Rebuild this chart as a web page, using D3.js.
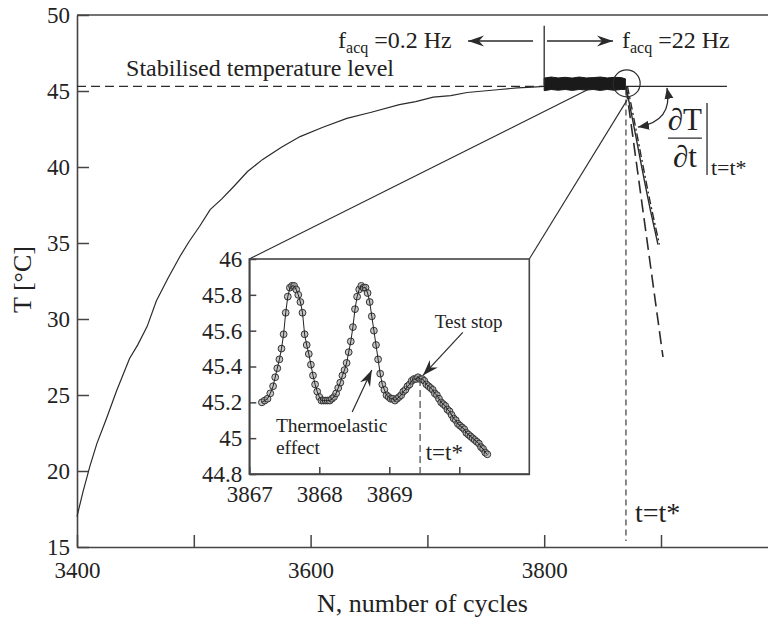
<!DOCTYPE html>
<html><head><meta charset="utf-8">
<script src="https://cdn.jsdelivr.net/npm/d3@7"></script>
<style>
body{margin:0;background:#fff}
svg{display:block}
</style></head><body>
<svg id="c" width="768" height="621"></svg>
<script>
// ---------- data ----------
const mainN = [3400,3405,3411,3417,3425,3434,3445,3452,3460,3468,3478,3488,3496,3505,3514,3524,3534,3546,3559,3575,3591,3610,3631,3652,3676,3690,3705,3720,3734,3748,3762,3777,3790,3800];
const mainT = [17.0,18.6,20.3,21.8,23.4,25.3,27.4,28.3,29.5,31.2,32.7,34.1,35.1,36.1,37.2,37.9,38.7,39.7,40.5,41.3,42.0,42.6,43.2,43.6,44.1,44.3,44.6,44.7,44.9,45.0,45.1,45.2,45.25,45.3];
const bandN  = [3800,3806,3812,3818,3824,3830,3836,3842,3848,3854,3860,3866,3869.5];
const bandHi = [45.85,45.92,45.86,45.9,45.85,45.92,45.86,45.88,45.92,45.86,45.9,45.88,45.8];
const bandLo = [45.02,45.1,45.05,45.1,45.04,45.1,45.06,45.1,45.04,45.1,45.05,45.1,45.1];
const coolN = [3870,3875,3880,3886,3891,3897.4];
const coolT = [45.3,43.4,41.4,39.0,37.1,34.9];
const tangentN = [3870,3901.7];
const tangentT = [45.3,27.5];
const stabT = 45.3;
const switchN = 3800;
const tStarN = 3870;

const insetN = [3867.18,3867.22,3867.26,3867.30,3867.34,3867.37,3867.40,3867.43,3867.46,3867.49,3867.52,3867.55,3867.58,3867.61,3867.64,3867.67,3867.70,3867.73,3867.76,3867.79,3867.82,3867.85,3867.88,3867.91,3867.94,3867.97,3868.00,3868.03,3868.06,3868.09,3868.12,3868.15,3868.18,3868.21,3868.24,3868.27,3868.30,3868.33,3868.36,3868.39,3868.42,3868.45,3868.48,3868.51,3868.54,3868.57,3868.60,3868.63,3868.66,3868.69,3868.72,3868.75,3868.78,3868.81,3868.84,3868.87,3868.90,3868.93,3868.96,3868.99,3869.02,3869.05,3869.08,3869.11,3869.14,3869.17,3869.20,3869.23,3869.26,3869.29,3869.32,3869.35,3869.38,3869.41,3869.44,3869.47,3869.50,3869.53,3869.56,3869.59,3869.62,3869.65,3869.68,3869.71,3869.74,3869.77,3869.80,3869.83,3869.86,3869.89,3869.92,3869.95,3869.98,3870.01,3870.04,3870.07,3870.10,3870.13,3870.16,3870.19,3870.22,3870.25,3870.28,3870.31,3870.34,3870.37,3870.40];
const insetT = [45.20,45.21,45.22,45.25,45.29,45.34,45.39,45.44,45.50,45.58,45.70,45.79,45.84,45.85,45.85,45.83,45.80,45.76,45.70,45.58,45.52,45.47,45.41,45.35,45.30,45.26,45.23,45.21,45.21,45.21,45.21,45.21,45.22,45.23,45.25,45.28,45.31,45.35,45.38,45.42,45.48,45.54,45.62,45.72,45.79,45.83,45.85,45.84,45.84,45.81,45.76,45.68,45.60,45.52,45.44,45.36,45.30,45.27,45.24,45.23,45.22,45.22,45.21,45.22,45.23,45.24,45.26,45.27,45.29,45.30,45.32,45.33,45.33,45.34,45.33,45.33,45.32,45.30,45.29,45.28,45.27,45.25,45.24,45.22,45.20,45.19,45.18,45.16,45.15,45.13,45.11,45.10,45.08,45.07,45.06,45.05,45.03,45.02,45.01,45.00,44.99,44.98,44.97,44.95,44.94,44.92,44.91];

const yTicks = [15,20,25,30,35,40,45,50];
const xTicks = [3400,3500,3600,3700,3800,3900];
const xTickLabels = [3400,3600,3800];
const insetYTicks = [44.8,45,45.2,45.4,45.6,45.8,46];
const insetXTicks = [3867,3868,3869,3870];
const insetXLabels = [3867,3868,3869];

// ---------- setup ----------
const FONT = "'Liberation Serif','Times New Roman',Times,serif";
const svg = d3.select("#c");
const ink = "#2b2b2b";
const x = d3.scaleLinear().domain([3400,4000]).range([77,777.8]);
const y = d3.scaleLinear().domain([15,50]).range([547,15]);
const xi = d3.scaleLinear().domain([3867,3871]).range([249.3,529.3]);
const yi = d3.scaleLinear().domain([44.8,46]).range([474,259]);

const defs = svg.append("defs");
defs.append("marker").attr("id","swept").attr("viewBox","0 -6 16 12")
  .attr("refX",16).attr("refY",0).attr("markerWidth",16).attr("markerHeight",12)
  .attr("markerUnits","userSpaceOnUse").attr("orient","auto")
  .append("path").attr("d","M0,-5.5 L16,0 L0,5.5 L5,0 Z").attr("fill",ink);
defs.append("marker").attr("id","tri").attr("viewBox","0 -5 11 10")
  .attr("refX",11).attr("refY",0).attr("markerWidth",11).attr("markerHeight",10)
  .attr("markerUnits","userSpaceOnUse").attr("orient","auto-start-reverse")
  .append("path").attr("d","M0,-4.5 L11,0 L0,4.5 Z").attr("fill",ink);

function styleAxis(g, fs){
  g.attr("font-family",null).attr("font-size",null);
  g.select(".domain").attr("stroke","#444").attr("stroke-width",1.6);
  g.selectAll(".tick line").attr("stroke","#444").attr("stroke-width",1.5);
  g.selectAll(".tick text").attr("font-size",fs).attr("fill","#222");
}

// ---------- main axes ----------
const gy = svg.append("g").attr("transform",`translate(${x.range()[0]},0)`)
  .call(d3.axisLeft(y).tickValues(yTicks).tickSizeInner(-12).tickSizeOuter(0).tickPadding(7).tickFormat(d3.format("d")));
styleAxis(gy,23);
const gx = svg.append("g").attr("transform",`translate(0,${y(15)})`)
  .call(d3.axisBottom(x).tickValues(xTicks).tickSizeInner(-12).tickSizeOuter(0).tickPadding(15)
     .tickFormat(d => xTickLabels.includes(d) ? d : ""));
styleAxis(gx,23);
svg.append("line").attr("x1",x(3400)).attr("x2",x(4000)).attr("y1",y(50)).attr("y2",y(50))
  .attr("stroke","#444").attr("stroke-width",1.6);

svg.append("text").attr("x",(x(3400)+768)/2).attr("y",612).attr("text-anchor","middle")
  .attr("font-size",26).text("N, number of cycles");
svg.append("text").attr("transform",`translate(31,${y(32.6)}) rotate(-90)`).attr("text-anchor","middle")
  .attr("font-size",26).text("T [°C]");

// ---------- main data ----------
const line = d3.line().x(d=>x(d[0])).y(d=>y(d[1]));
svg.append("path").datum(mainN.map((n,i)=>[n,mainT[i]])).attr("d",line)
  .attr("fill","none").attr("stroke",ink).attr("stroke-width",1.2);

// stabilised level
svg.append("path").datum([[3400,stabT],[switchN,stabT]]).attr("d",line)
  .attr("fill","none").attr("stroke",ink).attr("stroke-width",1.2).attr("stroke-dasharray","9,5");
svg.append("path").datum([[tStarN,stabT],[3956.5,stabT]]).attr("d",line)
  .attr("fill","none").attr("stroke",ink).attr("stroke-width",1.3);
svg.append("text").attr("x",x(3442)).attr("y",y(45.99)).attr("font-size",24).text("Stabilised temperature level");

// band of 22 Hz data
const area = d3.area().x((d)=>x(d.n)).y0(d=>y(d.lo)).y1(d=>y(d.hi)).curve(d3.curveLinear);
svg.append("path").datum(bandN.map((n,i)=>({n,hi:bandHi[i],lo:bandLo[i]}))).attr("d",area)
  .attr("fill","#1a1a1a").attr("stroke","#1a1a1a").attr("stroke-width",1);

// acquisition switch + arrows
svg.append("line").attr("x1",x(switchN)).attr("x2",x(switchN)).attr("y1",y(49.3)).attr("y2",y(45.4))
  .attr("stroke",ink).attr("stroke-width",1.3);
svg.append("line").attr("x1",x(3790.4)).attr("x2",x(3734.8)).attr("y1",y(48.29)).attr("y2",y(48.29))
  .attr("stroke",ink).attr("stroke-width",1.3).attr("marker-end","url(#swept)");
svg.append("line").attr("x1",x(3802.4)).attr("x2",x(3858.9)).attr("y1",y(48.29)).attr("y2",y(48.29))
  .attr("stroke",ink).attr("stroke-width",1.3).attr("marker-end","url(#swept)");
function facq(nx, label){
  const t = svg.append("text").attr("x",x(nx)).attr("y",y(47.85)).attr("font-size",24);
  t.append("tspan").text("f");
  t.append("tspan").attr("dy",5).attr("font-size",16).text("acq");
  t.append("tspan").attr("dy",-5).text(" =" + label);
}
facq(3623.5,"0.2 Hz");
facq(3866.6,"22 Hz");

// circle
svg.append("circle").attr("cx",x(3870.6)).attr("cy",y(45.5)).attr("r",13.5)
  .attr("fill","none").attr("stroke",ink).attr("stroke-width",1.2);

// cooling data and tangent
svg.append("path").datum(coolN.map((n,i)=>[n,coolT[i]])).attr("d",line.curve(d3.curveBasis))
  .attr("fill","none").attr("stroke",ink).attr("stroke-width",1.4);
svg.append("path").datum(coolN.map((n,i)=>[n,coolT[i]])).attr("d",line)
  .attr("fill","none").attr("stroke",ink).attr("stroke-width",1.4).attr("stroke-dasharray","8,3,2,3")
  .attr("transform","translate(1.5,0)");
line.curve(d3.curveLinear);
svg.append("path").datum(tangentN.map((n,i)=>[n,tangentT[i]])).attr("d",line)
  .attr("fill","none").attr("stroke",ink).attr("stroke-width",1.6).attr("stroke-dasharray","13,6");

// t* vertical
svg.append("line").attr("x1",x(tStarN)).attr("x2",x(tStarN)).attr("y1",y(45.1)).attr("y2",y(15.4))
  .attr("stroke",ink).attr("stroke-width",1.1).attr("stroke-dasharray","6,4");
svg.append("text").attr("x",x(3877.7)).attr("y",y(16.64)).attr("font-size",28).text("t=t*");

// curved double arrow
const p0=[x(3905.1),y(45.2)], pc=[x(3910.5),y(43.0)], p2=[x(3880.3),y(42.63)];
svg.append("path").attr("d",`M${p0[0]},${p0[1]} Q${pc[0]},${pc[1]} ${p2[0]},${p2[1]}`)
  .attr("fill","none").attr("stroke",ink).attr("stroke-width",1.3)
  .attr("marker-start","url(#tri)").attr("marker-end","url(#tri)");

// derivative label
const fx = x(3920.5);
svg.append("text").attr("x",fx).attr("y",y(42.43)).attr("text-anchor","middle").attr("font-size",31).text("∂T");
svg.append("line").attr("x1",x(3906)).attr("x2",x(3935)).attr("y1",y(41.9)).attr("y2",y(41.9))
  .attr("stroke",ink).attr("stroke-width",1.2);
svg.append("text").attr("x",fx).attr("y",y(40.0)).attr("text-anchor","middle").attr("font-size",31).text("∂t");
svg.append("line").attr("x1",x(3939.4)).attr("x2",x(3939.4)).attr("y1",y(44.21)).attr("y2",y(39.47))
  .attr("stroke",ink).attr("stroke-width",1.3);
svg.append("text").attr("x",x(3942.8)).attr("y",y(39.47)).attr("font-size",22).text("t=t*");

// ---------- connectors ----------
svg.append("line").attr("x1",x(3837.5)).attr("y1",y(45.1)).attr("x2",xi(3867)).attr("y2",yi(46))
  .attr("stroke",ink).attr("stroke-width",1.1);
svg.append("line").attr("x1",x(3870.9)).attr("y1",y(44.4)).attr("x2",xi(3871)).attr("y2",yi(46))
  .attr("stroke",ink).attr("stroke-width",1.1);

// ---------- inset ----------
svg.append("rect").attr("x",xi(3867)).attr("y",yi(46)).attr("width",xi(3871)-xi(3867)).attr("height",yi(44.8)-yi(46))
  .attr("fill","#fff").attr("stroke","#444").attr("stroke-width",1.6);
const giy = svg.append("g").attr("transform",`translate(${xi(3867)},0)`)
  .call(d3.axisLeft(yi).tickValues(insetYTicks).tickSizeInner(-7).tickSizeOuter(0).tickPadding(7)
    .tickFormat(d => String(+d.toFixed(1))));
styleAxis(giy,23);
const gix = svg.append("g").attr("transform",`translate(0,${yi(44.8)})`)
  .call(d3.axisBottom(xi).tickValues(insetXTicks).tickSizeInner(-7).tickSizeOuter(0).tickPadding(12)
    .tickFormat(d => insetXLabels.includes(d) ? d : ""));
styleAxis(gix,23);

const ipts = insetN.map((n,i)=>[n,insetT[i]]);
const iline = d3.line().x(d=>xi(d[0])).y(d=>yi(d[1]));
svg.append("g").selectAll("circle").data(ipts).join("circle")
  .attr("cx",d=>xi(d[0])).attr("cy",d=>yi(d[1])).attr("r",3.4)
  .attr("fill","#a0a0a0").attr("fill-opacity",0.6).attr("stroke","#333").attr("stroke-width",1);
svg.append("path").datum(ipts).attr("d",iline).attr("fill","none").attr("stroke","#222").attr("stroke-width",1);

svg.append("line").attr("x1",xi(3869.44)).attr("x2",xi(3869.44)).attr("y1",yi(45.33)).attr("y2",yi(44.8))
  .attr("stroke","#555").attr("stroke-width",1.3).attr("stroke-dasharray","7,4");
svg.append("text").attr("x",xi(3869.52)).attr("y",yi(44.88)).attr("font-size",23).text("t=t*");

svg.append("text").attr("x",xi(3869.65)).attr("y",yi(45.615)).attr("font-size",19).text("Test stop");
svg.append("line").attr("x1",xi(3870.05)).attr("y1",yi(45.59)).attr("x2",xi(3869.48)).attr("y2",yi(45.35))
  .attr("stroke",ink).attr("stroke-width",1.2).attr("marker-end","url(#swept)");
svg.append("text").attr("x",xi(3867.38)).attr("y",yi(45.035)).attr("font-size",19.5).text("Thermoelastic");
svg.append("text").attr("x",xi(3867.38)).attr("y",yi(44.91)).attr("font-size",19.5).text("effect");
svg.append("line").attr("x1",xi(3868.47)).attr("y1",yi(45.146)).attr("x2",xi(3868.75)).attr("y2",yi(45.38))
  .attr("stroke",ink).attr("stroke-width",1.2).attr("marker-end","url(#swept)");

// fonts for every text
svg.selectAll("text").style("font-family",FONT).style("fill","#222");
</script></body></html>
